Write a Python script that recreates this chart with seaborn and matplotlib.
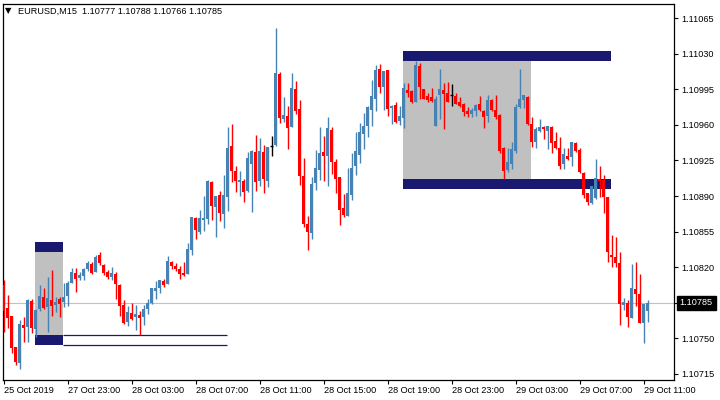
import seaborn as sns
import matplotlib.pyplot as plt
import pandas as pd
from matplotlib.patches import Rectangle
from matplotlib.transforms import blended_transform_factory

# EURUSD M15 bars
opens = [
    1.10802, 1.10780, 1.10772, 1.10741, 1.10726, 1.10763, 1.10761, 1.10787, 1.10759, 1.10779,
    1.10791, 1.10781, 1.10788, 1.10783, 1.10789, 1.10786, 1.10792, 1.10804, 1.10814, 1.10809,
    1.10811, 1.10818, 1.10823, 1.10815, 1.10832, 1.10822, 1.10815, 1.10810, 1.10813, 1.10802,
    1.10783, 1.10766, 1.10775, 1.10771, 1.10773, 1.10771, 1.10779, 1.10785, 1.10797, 1.10800,
    1.10806, 1.10803, 1.10825, 1.10821, 1.10818, 1.10814, 1.10813, 1.10837, 1.10868, 1.10855,
    1.10866, 1.10867, 1.10904, 1.10879, 1.10891, 1.10872, 1.10889, 1.10939, 1.10915, 1.10904,
    1.10905, 1.10895, 1.10922, 1.10933, 1.10905, 1.10933, 1.10905, 1.10939, 1.10940, 1.11010,
    1.10966, 1.10969, 1.10958, 1.10995, 1.10976, 1.10910, 1.10863, 1.10854, 1.10903, 1.10916,
    1.10933, 1.10929, 1.10955, 1.10924, 1.10909, 1.10878, 1.10870, 1.10891, 1.10920, 1.10930,
    1.10951, 1.10959, 1.10975, 1.10986, 1.11015, 1.10997, 1.11014, 1.10977, 1.10980, 1.10964,
    1.10967, 1.10994, 1.10993, 1.10983, 1.11018, 1.10995, 1.10988, 1.10987, 1.10959, 1.10989,
    1.10994, 1.10991, 1.10989, 1.10988, 1.10983, 1.10981, 1.10974, 1.10971, 1.10974, 1.10981,
    1.10974, 1.10969, 1.10985, 1.10975, 1.10970, 1.10937, 1.10916, 1.10922, 1.10934, 1.10978,
    1.10985, 1.10987, 1.10961, 1.10943, 1.10954, 1.10958, 1.10954, 1.10958, 1.10944, 1.10937,
    1.10922, 1.10929, 1.10928, 1.10942, 1.10935, 1.10913, 1.10893, 1.10883, 1.10888, 1.10907,
    1.10906, 1.10889, 1.10832, 1.10830, 1.10824, 1.10783, 1.10785, 1.10770, 1.10799, 1.10794,
    1.10765, 1.10777,
]
highs = [
    1.10807, 1.10793, 1.10772, 1.10741, 1.10768, 1.10771, 1.10789, 1.10789, 1.10779, 1.10802,
    1.10800, 1.10810, 1.10817, 1.10791, 1.10791, 1.10804, 1.10806, 1.10819, 1.10819, 1.10815,
    1.10819, 1.10826, 1.10825, 1.10832, 1.10835, 1.10823, 1.10817, 1.10820, 1.10815, 1.10803,
    1.10788, 1.10782, 1.10785, 1.10783, 1.10777, 1.10783, 1.10789, 1.10800, 1.10806, 1.10807,
    1.10808, 1.10831, 1.10826, 1.10824, 1.10821, 1.10825, 1.10844, 1.10869, 1.10869, 1.10876,
    1.10890, 1.10906, 1.10905, 1.10890, 1.10895, 1.10911, 1.10958, 1.10961, 1.10920, 1.10915,
    1.10907, 1.10933, 1.10935, 1.10950, 1.10947, 1.10940, 1.10938, 1.10949, 1.11055, 1.11012,
    1.10987, 1.10979, 1.11011, 1.11003, 1.10985, 1.10927, 1.10870, 1.10909, 1.10935, 1.10958,
    1.10949, 1.10968, 1.10958, 1.10926, 1.10909, 1.10892, 1.10918, 1.10932, 1.10953, 1.10962,
    1.10972, 1.10979, 1.11004, 1.11019, 1.11020, 1.11013, 1.11014, 1.10980, 1.10983, 1.10979,
    1.11001, 1.11001, 1.10994, 1.11023, 1.11021, 1.10995, 1.10991, 1.10996, 1.10988, 1.11015,
    1.11001, 1.11002, 1.11000, 1.10991, 1.10987, 1.10982, 1.10978, 1.10977, 1.10981, 1.10988,
    1.10975, 1.10989, 1.10986, 1.10989, 1.10971, 1.10938, 1.10937, 1.10943, 1.10981, 1.11015,
    1.10989, 1.10988, 1.10968, 1.10958, 1.10966, 1.10959, 1.10959, 1.10959, 1.10953, 1.10948,
    1.10937, 1.10937, 1.10943, 1.10943, 1.10937, 1.10914, 1.10893, 1.10900, 1.10926, 1.10920,
    1.10911, 1.10889, 1.10852, 1.10850, 1.10835, 1.10790, 1.10788, 1.10823, 1.10825, 1.10813,
    1.10784, 1.10788,
]
lows = [
    1.10756, 1.10760, 1.10736, 1.10724, 1.10720, 1.10746, 1.10746, 1.10755, 1.10751, 1.10777,
    1.10779, 1.10756, 1.10772, 1.10776, 1.10771, 1.10781, 1.10782, 1.10804, 1.10796, 1.10807,
    1.10807, 1.10816, 1.10813, 1.10815, 1.10822, 1.10812, 1.10808, 1.10807, 1.10789, 1.10772,
    1.10764, 1.10762, 1.10768, 1.10758, 1.10753, 1.10763, 1.10774, 1.10784, 1.10789, 1.10795,
    1.10801, 1.10803, 1.10818, 1.10816, 1.10808, 1.10811, 1.10813, 1.10832, 1.10848, 1.10853,
    1.10856, 1.10863, 1.10866, 1.10850, 1.10865, 1.10859, 1.10875, 1.10904, 1.10894, 1.10890,
    1.10884, 1.10894, 1.10874, 1.10895, 1.10900, 1.10893, 1.10899, 1.10929, 1.10939, 1.10962,
    1.10963, 1.10936, 1.10958, 1.10971, 1.10901, 1.10860, 1.10837, 1.10848, 1.10896, 1.10906,
    1.10905, 1.10900, 1.10912, 1.10893, 1.10862, 1.10869, 1.10870, 1.10886, 1.10911, 1.10923,
    1.10936, 1.10948, 1.10959, 1.10974, 1.10991, 1.10975, 1.10969, 1.10961, 1.10962, 1.10960,
    1.10957, 1.10987, 1.10982, 1.10983, 1.10986, 1.10986, 1.10983, 1.10983, 1.10959, 1.10966,
    1.10956, 1.10983, 1.10979, 1.10981, 1.10978, 1.10969, 1.10968, 1.10968, 1.10969, 1.10974,
    1.10957, 1.10963, 1.10974, 1.10966, 1.10932, 1.10907, 1.10914, 1.10917, 1.10932, 1.10977,
    1.10977, 1.10960, 1.10938, 1.10937, 1.10953, 1.10946, 1.10936, 1.10932, 1.10936, 1.10917,
    1.10917, 1.10925, 1.10920, 1.10933, 1.10913, 1.10888, 1.10881, 1.10882, 1.10887, 1.10889,
    1.10873, 1.10825, 1.10820, 1.10820, 1.10763, 1.10778, 1.10761, 1.10770, 1.10782, 1.10765,
    1.10745, 1.10766,
]
closes = [
    1.10777, 1.10770, 1.10740, 1.10727, 1.10764, 1.10760, 1.10788, 1.10760, 1.10778, 1.10792,
    1.10780, 1.10790, 1.10782, 1.10786, 1.10784, 1.10791, 1.10804, 1.10815, 1.10808, 1.10812,
    1.10818, 1.10824, 1.10814, 1.10830, 1.10824, 1.10814, 1.10810, 1.10814, 1.10803, 1.10782,
    1.10765, 1.10776, 1.10769, 1.10774, 1.10770, 1.10779, 1.10785, 1.10800, 1.10800, 1.10807,
    1.10802, 1.10826, 1.10821, 1.10818, 1.10813, 1.10812, 1.10838, 1.10869, 1.10857, 1.10868,
    1.10868, 1.10905, 1.10880, 1.10890, 1.10873, 1.10891, 1.10937, 1.10915, 1.10905, 1.10906,
    1.10894, 1.10927, 1.10934, 1.10904, 1.10934, 1.10907, 1.10938, 1.10939, 1.11011, 1.10967,
    1.10970, 1.10957, 1.10996, 1.10974, 1.10910, 1.10863, 1.10855, 1.10902, 1.10918, 1.10932,
    1.10929, 1.10957, 1.10924, 1.10907, 1.10876, 1.10871, 1.10893, 1.10918, 1.10934, 1.10953,
    1.10959, 1.10978, 1.10988, 1.11014, 1.10997, 1.11013, 1.10976, 1.10979, 1.10963, 1.10969,
    1.10996, 1.10991, 1.10983, 1.11019, 1.10997, 1.10986, 1.10985, 1.10984, 1.10986, 1.10995,
    1.10990, 1.10983, 1.10989, 1.10981, 1.10979, 1.10973, 1.10971, 1.10975, 1.10980, 1.10975,
    1.10968, 1.10985, 1.10975, 1.10968, 1.10934, 1.10915, 1.10924, 1.10936, 1.10978, 1.10986,
    1.10989, 1.10961, 1.10943, 1.10956, 1.10958, 1.10956, 1.10959, 1.10942, 1.10937, 1.10920,
    1.10931, 1.10926, 1.10943, 1.10934, 1.10914, 1.10891, 1.10884, 1.10900, 1.10908, 1.10905,
    1.10889, 1.10835, 1.10830, 1.10824, 1.10784, 1.10786, 1.10771, 1.10800, 1.10794, 1.10765,
    1.10784, 1.10785,
]

time_labels = ["25 Oct 2019", "27 Oct 23:00", "28 Oct 03:00", "28 Oct 07:00",
               "28 Oct 11:00", "28 Oct 15:00", "28 Oct 19:00", "28 Oct 23:00",
               "29 Oct 03:00", "29 Oct 07:00", "29 Oct 11:00"]
bars_per_label = 16
price_ticks = [1.10715, 1.10750, 1.10785, 1.10820, 1.10855, 1.10890,
               1.10925, 1.10960, 1.10995, 1.11030, 1.11065]

# supply / demand zones (bar index where they start / end, band prices)
zone_from = [8, 100]
zone_to = [15, 132]
band_to = [15, 152]
line_to = [56, None]
zone_top = [1.10845, 1.11033]
zone_upper = [1.10835, 1.11023]
zone_lower = [1.10753, 1.10907]
zone_bottom = [1.10743, 1.10897]

df = pd.DataFrame({"open": opens, "high": highs, "low": lows, "close": closes})
df["bar"] = range(len(df))
df["high"] = df[["open", "high", "close"]].max(axis=1)
df["low"] = df[["open", "low", "close"]].min(axis=1)

sns.set_theme(style="white")
plt.rcParams["font.family"] = ["Liberation Sans", "DejaVu Sans"]

bull = "#4682B4"
bear = "#FF0000"
navy = "#191970"
silver = "#C0C0C0"

fig = plt.figure(figsize=(7.2, 4), dpi=100)
ax = fig.add_axes([3 / 720, 20 / 400, 671 / 720, 376 / 400])

# zones
for k in range(len(zone_from)):
    x0 = zone_from[k] - 0.125
    ax.add_patch(Rectangle((x0, zone_lower[k]), zone_to[k] - zone_from[k],
                           zone_upper[k] - zone_lower[k], color=silver, lw=0, zorder=1))
    for lo, hi in [(zone_upper[k], zone_top[k]), (zone_bottom[k], zone_lower[k])]:
        ax.add_patch(Rectangle((x0, lo), band_to[k] - zone_from[k], hi - lo,
                               color=navy, lw=0, zorder=1.5))
    if line_to[k] is not None:
        x1 = zone_to[k] - 0.125
        x2 = line_to[k] - 0.125
        ax.hlines([zone_lower[k], zone_bottom[k]], x1, x2, color=navy, lw=0.9, zorder=1.5)

# current price line
ax.axhline(closes[-1], color=silver, lw=0.8, zorder=0.8)

# candles
colors = []
for o, c in zip(df["open"], df["close"]):
    if c > o:
        colors.append(bull)
    elif c < o:
        colors.append(bear)
    else:
        colors.append("black")
df["color"] = colors

ax.vlines(df["bar"], df["low"], df["high"], colors=df["color"], lw=1.0, zorder=3)
body_lo = df[["open", "close"]].min(axis=1)
body_h = (df["close"] - df["open"]).abs().clip(lower=0.000008)
body = df["close"] != df["open"]
ax.bar(df["bar"][body], body_h[body], bottom=body_lo[body], width=0.78,
       color=df["color"][body], linewidth=0, zorder=3)
doji = ~body
ax.hlines(df["open"][doji], df["bar"][doji] - 0.45, df["bar"][doji] + 0.45,
          colors="black", lw=1.0, zorder=3)

ax.set_xlim(-0.125, 167.625)
ax.set_ylim(1.10709, 1.11079)

ax.yaxis.tick_right()
ax.set_yticks(price_ticks)
ax.set_yticklabels([f"{p:.5f}" for p in price_ticks])
ax.set_xticks(range(0, len(time_labels) * bars_per_label, bars_per_label))
ax.set_xticklabels(time_labels)
for t in ax.get_xticklabels():
    t.set_horizontalalignment("left")
ax.tick_params(axis="both", which="both", direction="out", length=3, width=0.8,
               colors="black", labelsize=6.6, pad=2, bottom=True, right=True,
               left=False, top=False)
ax.tick_params(axis="x", pad=1.5)
for s in ax.spines.values():
    s.set_visible(True)
    s.set_color("black")
    s.set_linewidth(0.9)
ax.grid(False)
ax.set_xlabel("")
ax.set_ylabel("")

# last price tag
trans = blended_transform_factory(ax.transAxes, ax.transData)
ax.text(1.0085, closes[-1], f"{closes[-1]:.5f}", transform=trans, color="white",
        fontsize=6.6, va="center", ha="left", zorder=10, clip_on=False,
        bbox=dict(facecolor="black", edgecolor="black", boxstyle="square,pad=0.3"))

# header
fig.text(5 / 720, 1 - 11 / 400, "\u25BC", family=["DejaVu Sans"], fontsize=6,
         va="center", ha="left", color="black")
fig.text(18 / 720, 1 - 11 / 400,
         f"EURUSD,M15  {opens[-1]:.5f} {highs[-1]:.5f} {lows[-1]:.5f} {closes[-1]:.5f}",
         fontsize=6.6, va="center", ha="left", color="black")

fig.savefig("out.png", dpi=100)
